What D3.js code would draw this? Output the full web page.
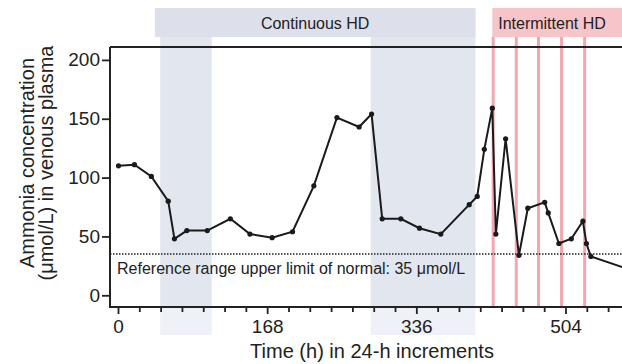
<!DOCTYPE html>
<html><head><meta charset="utf-8">
<script src="https://cdn.jsdelivr.net/npm/d3@7"></script>
<style>
html,body{margin:0;padding:0;background:#fff;}
svg{display:block;font-family:"Liberation Sans",Arial,sans-serif;}
</style></head>
<body>
<svg id="chart" width="622" height="364"></svg>
<script>
// ---- data ----
const hours  = [0, 18, 37, 56, 63, 77, 100, 126, 148, 173, 196, 220, 246, 271, 285, 297, 318, 339, 363, 395, 404, 412, 421, 425, 436, 451, 461, 480, 484, 496, 510, 523, 527, 532, 575];
const ammonia = [110, 111, 101, 80, 48, 55, 55, 65, 52, 49, 54, 93, 151, 143, 154, 65, 65, 57, 52, 77, 84, 124, 159, 52, 133, 34, 74, 79, 70, 44, 48, 63, 44, 33, 22];
const continuousBands = [[47, 105], [284, 402]];
const continuousBanner = [41, 402];
const intermittentBanner = [421, 600];
const intermittentSessions = [422, 448, 473, 499, 525];
const xTickLabels = [0, 168, 336, 504];
const yTickValues = [0, 50, 100, 150, 200];
const referenceLimit = 35;
const referenceText = "Reference range upper limit of normal: 35 \u03bcmol/L";

// ---- layout ----
const svg = d3.select("#chart");
const W = 622;
const axisLeft = 110, axisBottom = 307, plotTop = 47;
const x = d3.scaleLinear().domain([0, 504]).range([118.5, 566]);
const y = d3.scaleLinear().domain([0, 200]).range([295.3, 59.9]);

// continuous HD bands
const bands = svg.append("g");
bands.selectAll("rect.b").data(continuousBands).join("rect").attr("class", "b")
  .attr("x", d => x(d[0])).attr("width", d => x(d[1]) - x(d[0]))
  .attr("y", 8).attr("height", axisBottom - 8)
  .attr("fill", "#e2e6ef");
bands.selectAll("rect.f").data(continuousBands).join("rect").attr("class", "f")
  .attr("x", d => x(d[0])).attr("width", d => x(d[1]) - x(d[0]))
  .attr("y", axisBottom).attr("height", 28)
  .attr("fill", "#eef1f7");

// banners
svg.append("rect")
  .attr("x", x(continuousBanner[0])).attr("width", x(continuousBanner[1]) - x(continuousBanner[0]))
  .attr("y", 8).attr("height", 29).attr("fill", "#dde0ea");
svg.append("text").attr("x", (x(continuousBanner[0]) + x(continuousBanner[1])) / 2).attr("y", 29)
  .attr("text-anchor", "middle").attr("font-size", 16).attr("fill", "#222").text("Continuous HD");
svg.append("rect")
  .attr("x", x(intermittentBanner[0])).attr("width", x(intermittentBanner[1]) - x(intermittentBanner[0]))
  .attr("y", 8).attr("height", 29).attr("fill", "#f6c4c9");
svg.append("text").attr("x", 552).attr("y", 29)
  .attr("text-anchor", "middle").attr("font-size", 16).attr("fill", "#222").text("Intermittent HD");

// intermittent sessions lines
svg.append("g").selectAll("line").data(intermittentSessions).join("line")
  .attr("x1", d => x(d)).attr("x2", d => x(d))
  .attr("y1", 37).attr("y2", axisBottom)
  .attr("stroke", "#f3a6ad").attr("stroke-width", 3);

// reference line
svg.append("line")
  .attr("x1", axisLeft).attr("x2", W)
  .attr("y1", y(referenceLimit)).attr("y2", y(referenceLimit))
  .attr("stroke", "#222").attr("stroke-width", 1.5).attr("stroke-dasharray", "1.5,1.5");
svg.append("text").attr("x", 117).attr("y", 273.5).attr("font-size", 16).attr("fill", "#222").text(referenceText);

// frame: top line
svg.append("line").attr("x1", axisLeft).attr("x2", W).attr("y1", plotTop).attr("y2", plotTop)
  .attr("stroke", "#222").attr("stroke-width", 2);

// y axis
const yAxis = svg.append("g").attr("transform", `translate(${axisLeft},0)`)
  .call(d3.axisLeft(y).tickValues(yTickValues).tickSize(8).tickPadding(2).tickSizeOuter(0));
yAxis.select(".domain").remove();
yAxis.append("line").attr("x1", 0).attr("x2", 0).attr("y1", plotTop).attr("y2", axisBottom)
  .attr("stroke", "#222").attr("stroke-width", 2);
yAxis.selectAll(".tick line").attr("stroke", "#222").attr("stroke-width", 1.8);
yAxis.selectAll(".tick text").attr("font-size", 19).attr("fill", "#222").attr("font-family", "Liberation Sans, Arial, sans-serif");

// x axis
const minorTicks = d3.range(0, 577, 24).filter(h => x(h) < W);
const xAxis = svg.append("g").attr("transform", `translate(0,${axisBottom})`);
xAxis.append("line").attr("x1", axisLeft - 1).attr("x2", W).attr("y1", 0).attr("y2", 0)
  .attr("stroke", "#222").attr("stroke-width", 2);
xAxis.selectAll("line.minor").data(minorTicks).join("line").attr("class", "minor")
  .attr("x1", d => x(d)).attr("x2", d => x(d)).attr("y1", 0)
  .attr("y2", d => d % 168 === 0 ? 7 : 5)
  .attr("stroke", "#222").attr("stroke-width", 1.8);
xAxis.selectAll("text").data(xTickLabels).join("text")
  .attr("x", d => x(d)).attr("y", 26).attr("text-anchor", "middle")
  .attr("font-size", 19).attr("fill", "#222").text(d => d);

// axis titles
svg.append("text").attr("x", 372).attr("y", 358).attr("text-anchor", "middle")
  .attr("font-size", 20).attr("fill", "#222").text("Time (h) in 24-h increments");
const yt = svg.append("text").attr("transform", "translate(0,163) rotate(-90)")
  .attr("text-anchor", "middle").attr("font-size", 20).attr("fill", "#222");
yt.append("tspan").attr("x", 0).attr("y", 34).text("Ammonia concentration");
yt.append("tspan").attr("x", 0).attr("y", 53).text("(\u03bcmol/L) in venous plasma");

// data line
const pts = hours.map((h, i) => [h, ammonia[i]]);
svg.append("path").datum(pts)
  .attr("d", d3.line().x(d => x(d[0])).y(d => y(d[1])))
  .attr("fill", "none").attr("stroke", "#1a1a1a").attr("stroke-width", 2);
svg.append("g").selectAll("circle").data(pts).join("circle")
  .attr("cx", d => x(d[0])).attr("cy", d => y(d[1])).attr("r", 2.6)
  .attr("fill", "#1a1a1a");
</script>
</body></html>
